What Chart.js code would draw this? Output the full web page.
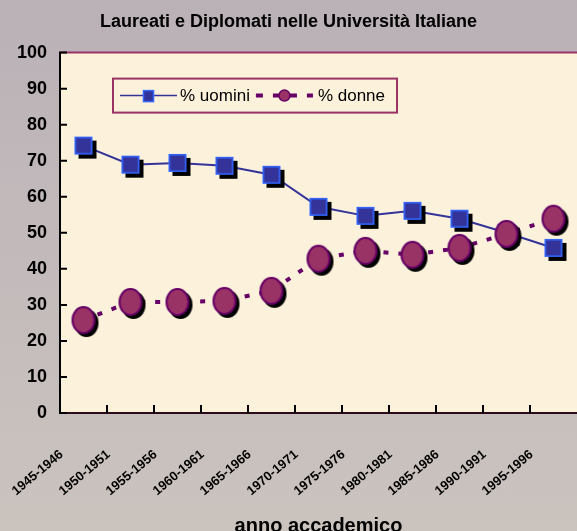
<!DOCTYPE html>
<html lang="it">
<head>
<meta charset="utf-8">
<title>Laureati e Diplomati nelle Università Italiane</title>
<script src="https://cdn.jsdelivr.net/npm/chart.js@4.4.1/dist/chart.umd.min.js"></script>
<style>
  html, body { margin: 0; padding: 0; }
  #wrap {
    width: 577px; height: 531px; position: relative;
    background: linear-gradient(to bottom, #b9b1b6 0%, #c3bbbb 50%, #cbc3be 100%);
  }
</style>
</head>
<body>
<div id="wrap"><canvas id="laureatiChart"></canvas></div>
<script>
// anni accademici (asse x)
const yearLabels = ['1945-1946', '1950-1951', '1955-1956', '1960-1961', '1965-1966', '1970-1971',
                    '1975-1976', '1980-1981', '1985-1986', '1990-1991', '1995-1996'];
// percentuali
const uomini = [74.2, 68.9, 69.4, 68.6, 66.1, 57.2, 54.7, 56.1, 53.9, 50.0, 45.8];
const donne = [25.8, 30.8, 30.8, 31.1, 33.9, 42.8, 45.0, 43.9, 45.8, 49.7, 53.9];
const yMin = 0;
const yMax = 100;
const yStep = 10;

const FONT = "'Liberation Sans', Arial, sans-serif";
const PLOT_BG = '#fcf1da';

// Marker con ombra, disegnati su un canvas a parte
function squareMarker(size, shadow) {
    const c = document.createElement('canvas');
    const half = size / 2 + shadow + 1;
    c.width = c.height = half * 2;
    const g = c.getContext('2d');
    const o = half - size / 2;
    g.fillStyle = '#000';
    g.fillRect(o + shadow, o + shadow, size, size);
    g.fillStyle = '#333399';
    g.fillRect(o, o, size, size);
    g.strokeStyle = '#3366ff';
    g.lineWidth = 1.6;
    g.strokeRect(o + 0.8, o + 0.8, size - 1.6, size - 1.6);
    return c;
}

function ellipseMarker(rx, ry, shadow) {
    const c = document.createElement('canvas');
    const half = Math.max(rx, ry) + shadow + 2;
    c.width = c.height = half * 2;
    const g = c.getContext('2d');
    g.fillStyle = '#000';
    g.beginPath();
    g.ellipse(half + shadow, half + shadow, rx, ry, 0, 0, Math.PI * 2);
    g.fill();
    g.fillStyle = '#993366';
    g.strokeStyle = '#660066';
    g.lineWidth = 2;
    g.beginPath();
    g.ellipse(half, half, rx - 1, ry - 1, 0, 0, Math.PI * 2);
    g.fill();
    g.stroke();
    return c;
}

const squareImg = squareMarker(18, 4);
const ellipseImg = ellipseMarker(12, 14, 3);

// Sfondo area del grafico, bordo superiore e tacche interne
const plotArea = {
    id: 'plotArea',
    beforeDraw(chart) {
        const { ctx, chartArea: a } = chart;
        ctx.save();
        ctx.fillStyle = PLOT_BG;
        ctx.fillRect(a.left, a.top, a.right - a.left, a.bottom - a.top);
        ctx.strokeStyle = '#993366';
        ctx.lineWidth = 2;
        ctx.beginPath();
        ctx.moveTo(a.left, a.top);
        ctx.lineTo(a.right, a.top);
        ctx.stroke();
        ctx.restore();
    },
    afterDatasetsDraw(chart) {
        const { ctx, chartArea: a, scales } = chart;
        ctx.save();
        ctx.strokeStyle = '#000';
        ctx.lineWidth = 2;
        ctx.beginPath();
        scales.y.ticks.forEach(t => {
            const py = scales.y.getPixelForValue(t.value);
            ctx.moveTo(a.left - 1, py);
            ctx.lineTo(a.left + 7, py);
        });
        const x = scales.x;
        for (let i = 1; i < yearLabels.length; i++) {
            const px = (x.getPixelForValue(i - 1) + x.getPixelForValue(i)) / 2;
            ctx.moveTo(px, a.bottom);
            ctx.lineTo(px, a.bottom - 8);
        }
        ctx.stroke();
        ctx.restore();
    }
};

// Legenda nel riquadro, come nell'originale
const boxLegend = {
    id: 'boxLegend',
    afterDraw(chart) {
        const { ctx, chartArea: a } = chart;
        const sets = chart.data.datasets;
        const left = a.left + 53, top = a.top + 26, h = 34;
        const cy = top + h / 2;
        const sample = 57;
        ctx.save();
        ctx.font = '17px ' + FONT;
        const w0 = ctx.measureText(sets[0].label).width;
        const w1 = ctx.measureText(sets[1].label).width;
        const width = 7 + sample + 3 + w0 + 6 + sample + 5 + w1 + 12;
        ctx.fillStyle = PLOT_BG;
        ctx.fillRect(left, top, width, h);
        ctx.strokeStyle = '#993366';
        ctx.lineWidth = 2;
        ctx.strokeRect(left, top, width, h);

        let x = left + 7;
        // % uomini
        ctx.strokeStyle = sets[0].borderColor;
        ctx.lineWidth = 1.5;
        ctx.beginPath();
        ctx.moveTo(x, cy);
        ctx.lineTo(x + sample, cy);
        ctx.stroke();
        ctx.fillStyle = '#333399';
        ctx.fillRect(x + sample / 2 - 5, cy - 5, 10, 11);
        ctx.strokeStyle = '#3366ff';
        ctx.lineWidth = 1.5;
        ctx.strokeRect(x + sample / 2 - 5, cy - 5, 10, 11);
        x += sample + 3;
        ctx.fillStyle = '#000';
        ctx.textBaseline = 'middle';
        ctx.fillText(sets[0].label, x, cy + 1);
        x += w0 + 6;

        // % donne
        ctx.strokeStyle = sets[1].borderColor;
        ctx.lineWidth = 4;
        ctx.setLineDash([7, 10]);
        ctx.beginPath();
        ctx.moveTo(x, cy);
        ctx.lineTo(x + sample, cy);
        ctx.stroke();
        ctx.setLineDash([]);
        ctx.fillStyle = '#993366';
        ctx.strokeStyle = '#660066';
        ctx.lineWidth = 1.5;
        ctx.beginPath();
        ctx.arc(x + sample / 2, cy, 5.5, 0, Math.PI * 2);
        ctx.fill();
        ctx.stroke();
        x += sample + 5;
        ctx.fillStyle = '#000';
        ctx.fillText(sets[1].label, x, cy + 1);
        ctx.restore();
    }
};

new Chart(document.getElementById('laureatiChart').getContext('2d'), {
    type: 'line',
    data: {
        labels: yearLabels,
        datasets: [{
            label: '% uomini',
            data: uomini,
            borderColor: '#333399',
            borderWidth: 2,
            pointStyle: squareImg,
            order: 1
        }, {
            label: '% donne',
            data: donne,
            borderColor: '#660066',
            borderWidth: 4,
            borderDash: [5, 10],
            pointStyle: ellipseImg,
            order: 0
        }]
    },
    options: {
        responsive: true,
        maintainAspectRatio: false,
        animation: false,
        layout: { padding: 0, autoPadding: false },
        plugins: {
            legend: { display: false },
            tooltip: { enabled: false },
            title: {
                display: true,
                text: 'Laureati e Diplomati nelle Università Italiane',
                color: '#000',
                font: { family: FONT, size: 18, weight: 'bold' },
                padding: { top: 11, bottom: 20 }
            }
        },
        scales: {
            x: {
                offset: true,
                grid: { display: false, drawTicks: false },
                border: { color: '#2a0c18', width: 2 },
                ticks: {
                    color: '#000',
                    font: { family: FONT, size: 13, weight: 'bold' },
                    minRotation: 40,
                    maxRotation: 40,
                    autoSkip: false,
                    labelOffset: -22,
                    padding: 34
                },
                title: {
                    display: true,
                    text: 'anno accademico',
                    color: '#000',
                    font: { family: FONT, size: 20, weight: 'bold' },
                    padding: { top: 0, bottom: -7 }
                },
                afterFit(scale) {
                    scale.height = 118;
                    scale.paddingLeft = 0;
                    scale.paddingRight = 0;
                }
            },
            y: {
                min: yMin,
                max: yMax,
                grid: { display: false, drawTicks: false },
                border: { color: '#000', width: 2 },
                ticks: {
                    stepSize: yStep,
                    color: '#000',
                    font: { family: FONT, size: 18, weight: 'bold' },
                    padding: 13
                },
                afterFit(scale) { scale.width = 60; }
            }
        }
    },
    plugins: [plotArea, boxLegend]
});
</script>
</body>
</html>
